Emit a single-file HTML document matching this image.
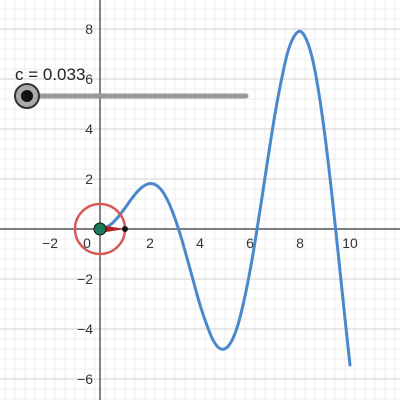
<!DOCTYPE html>
<html><head><meta charset="utf-8"><style>
html,body{margin:0;padding:0;background:#fff;width:400px;height:400px;overflow:hidden}
svg{display:block;font-family:"Liberation Sans",sans-serif}
</style></head><body>
<svg id="chart" width="400" height="400" viewBox="0 0 400 400"></svg>
<script>
const xValues=[0.3,0.5,0.75,1,1.25,1.5,1.75,2,2.25,2.5,2.75,3,3.25,3.5,3.75,4,4.25,4.5,4.75,5,5.25,5.5,5.75,6,6.25,6.5,6.75,7,7.25,7.5,7.75,8,8.25,8.5,8.75,9,9.25,9.5,9.75,10];
const yValues=[0.09,0.24,0.51,0.84,1.19,1.5,1.72,1.82,1.75,1.5,1.05,0.42,-0.35,-1.23,-2.14,-3.03,-3.78,-4.4,-4.75,-4.79,-4.51,-3.89,-2.91,-1.68,-0.21,1.4,3.04,4.6,5.93,7.04,7.68,7.91,7.59,6.8,5.47,3.71,1.61,-0.71,-3.12,-5.44];
const xTicks=[-2,0,2,4,6,8,10];
const yTicks=[-6,-4,-2,2,4,6,8];
const sliderValue=0.033;
const NS="http://www.w3.org/2000/svg";
const svg=document.getElementById('chart');
const X0=100,Y0=229,U=25;
const sx=v=>X0+v*U, sy=v=>Y0-v*U;
function mk(t,a,p){const e=document.createElementNS(NS,t);for(const k in a)e.setAttribute(k,a[k]);(p||svg).appendChild(e);return e;}
const grid=mk('g',{});


for(let v=-5;v<=12;v+=0.4){const px=sx(v);const major=Math.abs(v/2-Math.round(v/2))<1e-6;mk('line',{x1:px,y1:0,x2:px,y2:400,stroke:major?'#d2d2d2':'#ececec','stroke-width':1},grid);}
for(let v=-8;v<=10;v+=0.4){const py=sy(v);const major=Math.abs(v/2-Math.round(v/2))<1e-6;mk('line',{x1:0,y1:py,x2:400,y2:py,stroke:major?'#d2d2d2':'#ececec','stroke-width':1},grid);}
const xa=mk('line',{x1:0,y1:Y0,x2:400,y2:Y0,stroke:'#333','stroke-width':1.2});


const ya=mk('line',{x1:X0,y1:0,x2:X0,y2:400,stroke:'#333','stroke-width':1.2});


xTicks.forEach(t=>{const tx=mk('text',{x:t===0?sx(t)-13:sx(t),y:Y0+19,'font-size':14,fill:'#333','text-anchor':'middle'});tx.textContent=t<0?'\u2212'+(-t):t;

});
yTicks.forEach(t=>{const tx=mk('text',{x:X0-7,y:sy(t)+5,'font-size':14,fill:'#333','text-anchor':'end'});tx.textContent=t<0?'\u2212'+(-t):t;

});
const P=xValues.map((x,i)=>[sx(x),sy(yValues[i])]);
let d='M'+P[0][0]+','+P[0][1];
for(let i=0;i<P.length-1;i++){const p0=P[i-1]||P[i],p1=P[i],p2=P[i+1],p3=P[i+2]||P[i+1];
d+=` C${p1[0]+(p2[0]-p0[0])/6},${p1[1]+(p2[1]-p0[1])/6} ${p2[0]-(p3[0]-p1[0])/6},${p2[1]-(p3[1]-p1[1])/6} ${p2[0]},${p2[1]}`;}
const curve=mk('path',{d:d,fill:'none',stroke:'#4a88cc','stroke-width':3,'stroke-linecap':'round','stroke-linejoin':'round'});


const circ=mk('circle',{cx:X0,cy:Y0,r:U,fill:'none',stroke:'#d45a5a','stroke-width':2.5});


const vec=mk('polygon',{points:`${X0},${Y0-4} ${sx(1)},${Y0} ${X0},${Y0+4}`,fill:'#b22222'});


const tip=mk('circle',{cx:sx(1),cy:Y0,r:3,fill:'#111'});


const org=mk('circle',{cx:X0,cy:Y0,r:6,fill:'#1a7a5c',stroke:'#111','stroke-width':1});


const tr=mk('line',{x1:27,y1:96,x2:246,y2:96,stroke:'#999','stroke-width':5,'stroke-linecap':'round'});


const h=mk('circle',{cx:27,cy:96,r:12,fill:'#aaa',stroke:'#333','stroke-width':2});


mk('circle',{cx:27,cy:96,r:6,fill:'#111'});
const lbl=mk('text',{x:15,y:80,'font-size':17,fill:'#222'});
lbl.textContent='c = '+sliderValue.toFixed(3);


</script>
</body></html>
